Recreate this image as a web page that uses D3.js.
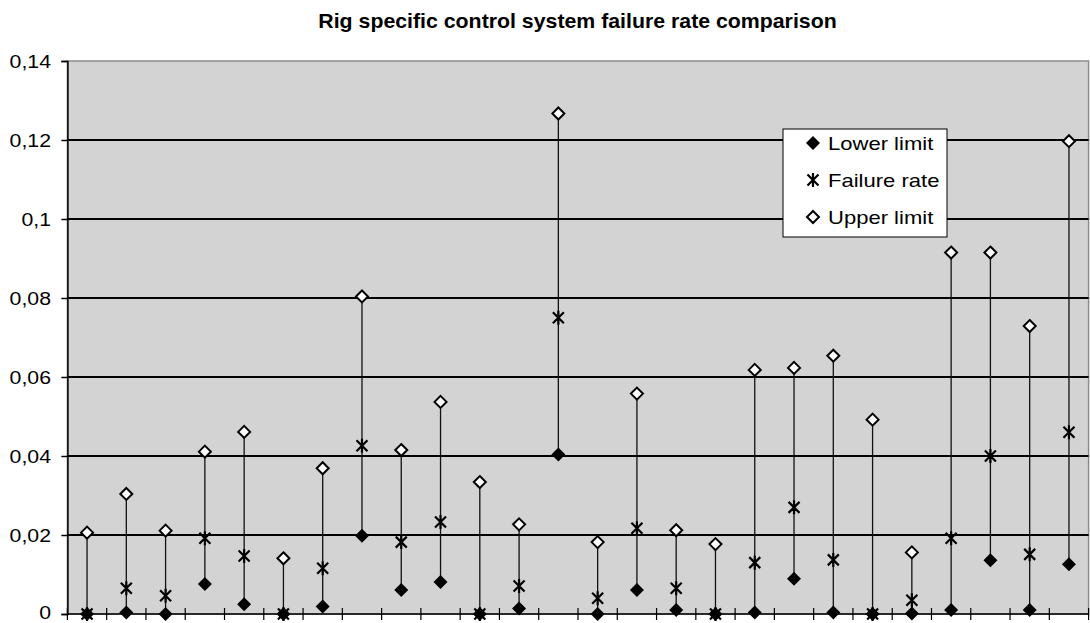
<!DOCTYPE html>
<html>
<head>
<meta charset="utf-8">
<script src="https://cdn.jsdelivr.net/npm/d3@7"></script>
<style>
  body { margin: 0; background: #fff; }
  svg { display: block; }
  text { font-family: "Liberation Sans", Arial, sans-serif; fill: #000; }
</style>
</head>
<body>
<svg id="chart" width="1090" height="623"></svg>
<script>
// Rigs in comparison order
const rigs = ["1","2","3","4","5","6","7","8","9","10","11","12","13",
              "14","15","16","17","18","19","20","21","22","23","24","25","26"];

// Confidence interval bounds and point estimate per rig
const lowerLimit = [0, 0.0004, 0, 0.0076, 0.0025, 0, 0.0019, 0.0198, 0.0061, 0.0081, 0, 0.0014, 0.0404,
                    0, 0.0061, 0.0010, 0, 0.0004, 0.0089, 0.0004, 0, 0.0001, 0.0010, 0.0136, 0.0010, 0.0126];
const failureRate = [0, 0.0065, 0.0046, 0.0192, 0.0147, 0, 0.0116, 0.0426, 0.0182, 0.0233, 0, 0.0071, 0.0750,
                     0.0040, 0.0217, 0.0065, 0, 0.0130, 0.0270, 0.0137, 0, 0.0035, 0.0192, 0.0400, 0.0151, 0.0460];
const upperLimit = [0.0206, 0.0304, 0.0211, 0.0411, 0.0461, 0.0141, 0.0369, 0.0804, 0.0415, 0.0537, 0.0334, 0.0227, 0.1267,
                    0.0182, 0.0558, 0.0212, 0.0177, 0.0618, 0.0623, 0.0654, 0.0492, 0.0156, 0.0915, 0.0915, 0.0729, 0.1197];

const yTickValues = [0, 0.02, 0.04, 0.06, 0.08, 0.1, 0.12, 0.14];
const yTickLabels = ["0", "0,02", "0,04", "0,06", "0,08", "0,1", "0,12", "0,14"];
const seriesNames = ["Lower limit", "Failure rate", "Upper limit"];
const titleText = "Rig specific control system failure rate comparison";

const svg = d3.select("#chart");
const plot = { left: 67.4, right: 1088.6, top: 61, bottom: 614 };
const FONT = 19, STRETCH = 1.12;

const x = d3.scaleBand().domain(rigs).range([plot.left, plot.right]).padding(0);
const y = d3.scaleLinear().domain([0, 0.14]).range([plot.bottom, plot.top]);
const cx = r => x(r) + x.bandwidth() / 2;

// horizontally widened text, anchored at (px, py)
function stretchedText(parent, px, py, str, anchor, opts = {}) {
  const g = parent.append("g")
    .attr("transform", `translate(${px},${py}) scale(${opts.stretch || STRETCH},1)`);
  return g.append("text").attr("text-anchor", anchor)
    .attr("font-size", opts.size || FONT)
    .attr("font-weight", opts.weight || "normal")
    .text(str);
}

// title
stretchedText(svg, 577.5, 27.5, titleText, "middle", { weight: "bold", size: 20, stretch: 1.065 });

// plot background
svg.append("rect")
  .attr("x", plot.left).attr("y", plot.top)
  .attr("width", plot.right - plot.left).attr("height", plot.bottom - plot.top)
  .attr("fill", "#d3d3d3").attr("stroke", "#8c8c8c").attr("stroke-width", 1.5);

// horizontal gridlines
svg.append("g").selectAll("line")
  .data(yTickValues.filter(v => v > 0 && v < 0.14))
  .join("line")
  .attr("x1", plot.left).attr("x2", plot.right)
  .attr("y1", d => y(d)).attr("y2", d => y(d))
  .attr("stroke", "#000").attr("stroke-width", 2);

// y axis
const yAxis = d3.axisLeft(y).tickValues(yTickValues).tickSize(6).tickFormat(() => "");
const yG = svg.append("g").attr("transform", `translate(${plot.left},0)`).call(yAxis);
yG.select(".domain").attr("stroke", "#000").attr("stroke-width", 1.5);
yG.selectAll(".tick line").attr("stroke", "#000").attr("stroke-width", 1.5);
yTickValues.forEach((v, i) => {
  stretchedText(svg, 51, Math.min(y(v) + 6.5, 619), yTickLabels[i], "end");
});

// x axis: category ticks crossing the baseline
svg.append("line")
  .attr("x1", plot.left).attr("x2", plot.right)
  .attr("y1", y(0)).attr("y2", y(0))
  .attr("stroke", "#000").attr("stroke-width", 1.5);
const bounds = rigs.map(r => x(r)).concat([plot.right]);
svg.append("g").selectAll("line")
  .data(bounds)
  .join("line")
  .attr("x1", d => d).attr("x2", d => d)
  .attr("y1", y(0) - 6).attr("y2", y(0) + 6)
  .attr("stroke", "#000").attr("stroke-width", 1.2);

// high-low lines from lower to upper limit
svg.append("g").selectAll("line")
  .data(rigs)
  .join("line")
  .attr("x1", d => cx(d)).attr("x2", d => cx(d))
  .attr("y1", (d, i) => y(lowerLimit[i])).attr("y2", (d, i) => y(upperLimit[i]))
  .attr("stroke", "#111").attr("stroke-width", 1.3);

// marker shapes
const diamond = "M0,-7L7,0L0,7L-7,0Z";
const diamondOpen = "M0,-6L6,0L0,6L-6,0Z";
const star = "M-5.5,-5.5L5.5,5.5M5.5,-5.5L-5.5,5.5M0,-7L0,7";

function drawLower(g, px, py) {
  g.append("path").attr("transform", `translate(${px},${py})`).attr("d", diamond).attr("fill", "#000");
}
function drawFailure(g, px, py) {
  g.append("path").attr("transform", `translate(${px},${py})`).attr("d", star)
    .attr("fill", "none").attr("stroke", "#000").attr("stroke-width", 2.2);
}
function drawUpper(g, px, py) {
  g.append("path").attr("transform", `translate(${px},${py})`).attr("d", diamondOpen)
    .attr("fill", "#fff").attr("stroke", "#000").attr("stroke-width", 2);
}

const marks = svg.append("g");
rigs.forEach((r, i) => drawLower(marks, cx(r), y(lowerLimit[i])));
rigs.forEach((r, i) => drawFailure(marks, cx(r), y(failureRate[i])));
rigs.forEach((r, i) => drawUpper(marks, cx(r), y(upperLimit[i])));

// legend
const lg = svg.append("g");
lg.append("rect").attr("x", 783).attr("y", 129).attr("width", 164).attr("height", 108)
  .attr("fill", "#fff").attr("stroke", "#000").attr("stroke-width", 1);
const legendRows = [143, 180, 217];
const drawers = [drawLower, drawFailure, drawUpper];
seriesNames.forEach((name, i) => {
  drawers[i](lg, 813, legendRows[i]);
  stretchedText(lg, 828, legendRows[i] + 6.8, name, "start", { stretch: 1.16 });
});
</script>
</body>
</html>
